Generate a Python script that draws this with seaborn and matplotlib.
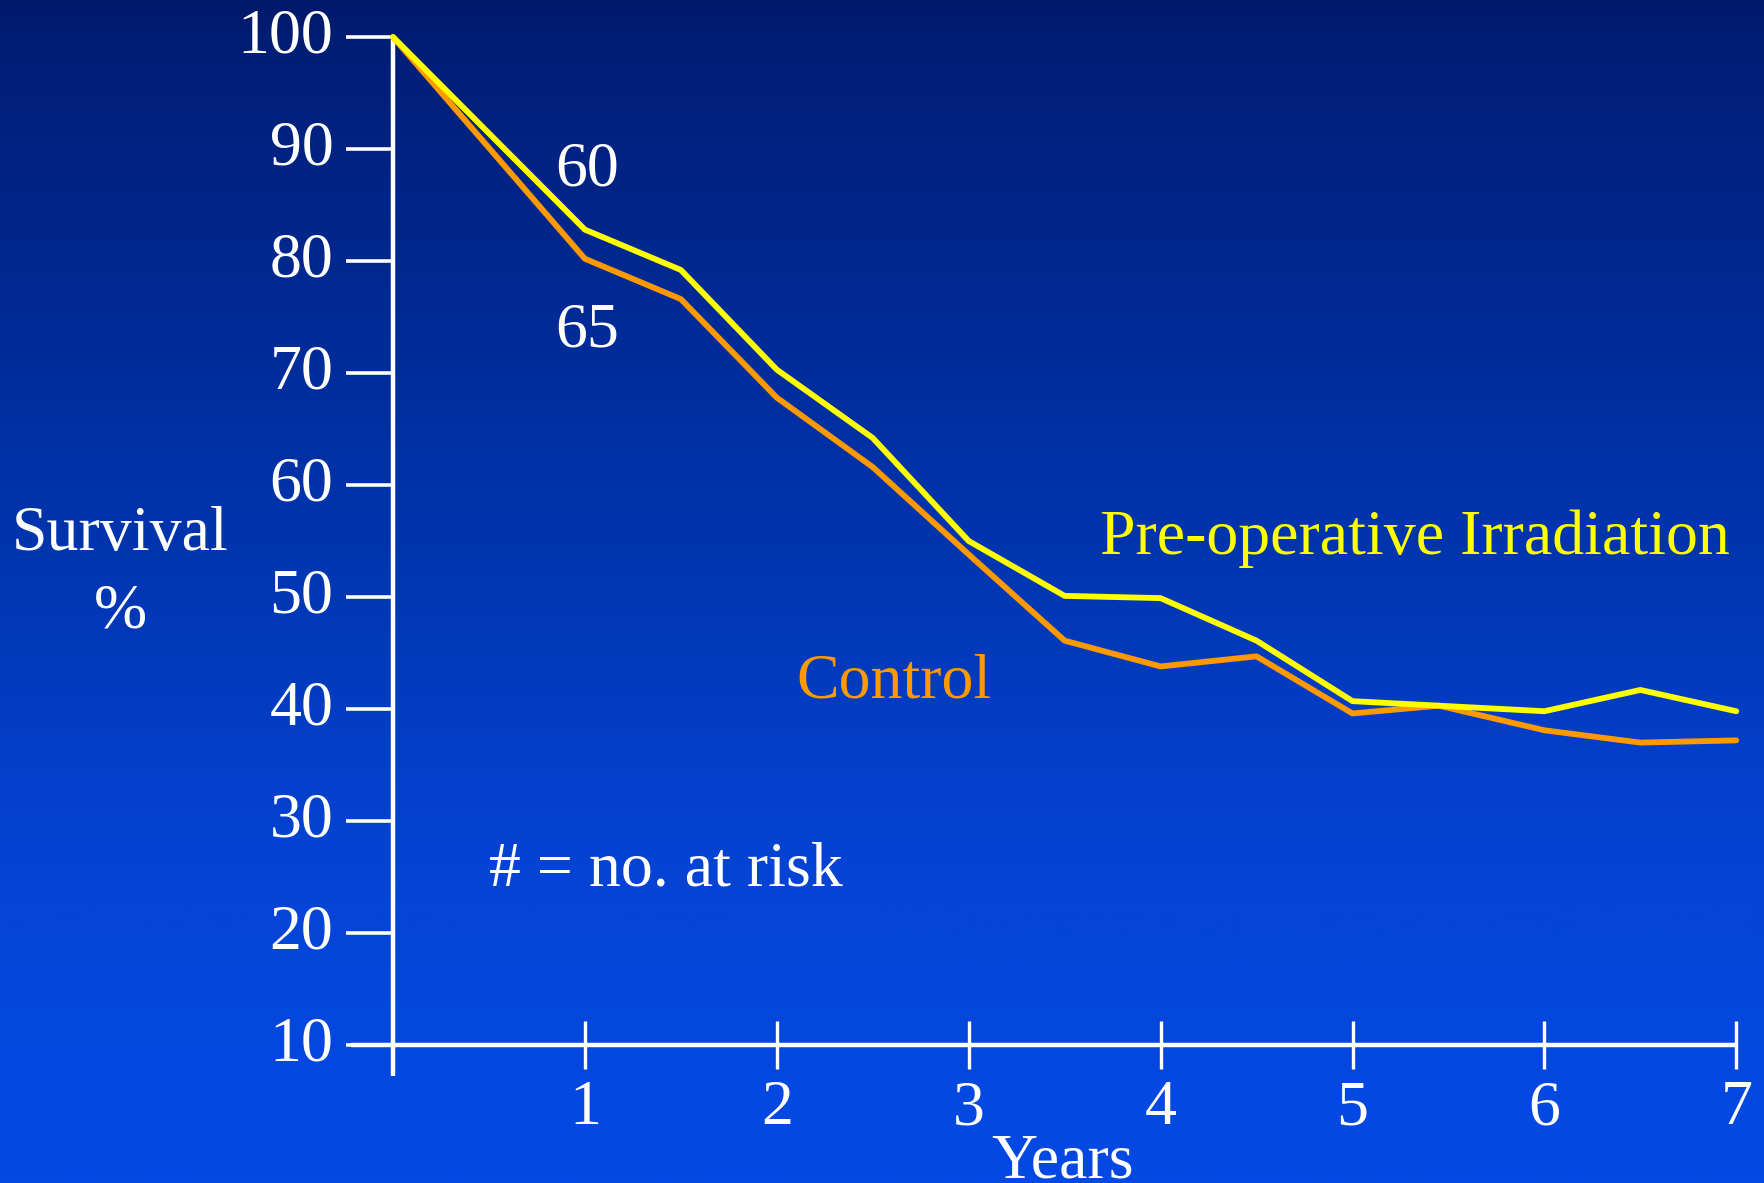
import numpy as np
import pandas as pd
import matplotlib
matplotlib.use("Agg")
import matplotlib.pyplot as plt
from matplotlib.colors import LinearSegmentedColormap
from matplotlib.transforms import ScaledTranslation
import seaborn as sns

# Survival curves (percent alive) by year of follow-up
preop_years = [0, 1, 1.5, 2, 2.5, 3, 3.5, 4, 4.5, 5, 6, 6.5, 7]
preop_survival = [100, 82.8, 79.2, 70.3, 64.2, 55.0, 50.1, 49.9, 46.1, 40.7, 39.8, 41.7, 39.8]

control_years = [0, 1, 1.5, 2, 2.5, 3, 3.5, 4, 4.5, 5, 5.45, 6, 6.5, 7]
control_survival = [100, 80.2, 76.6, 67.8, 61.6, 53.8, 46.1, 43.8, 44.7, 39.6, 40.3, 38.1, 37.0, 37.2]

y_ticks = [10, 20, 30, 40, 50, 60, 70, 80, 90, 100]
x_ticks = [1, 2, 3, 4, 5, 6, 7]

at_risk_preop = "60"
at_risk_control = "65"

YELLOW = "#FFFF00"
ORANGE = "#FF9900"
WHITE = "#FFFFFF"

sns.set_theme(style="white")
plt.rcParams["font.family"] = ["Liberation Serif", "DejaVu Serif"]

W, H, DPI = 1764, 1183, 100
fig = plt.figure(figsize=(W / DPI, H / DPI), dpi=DPI)

# vertical blue gradient backdrop
bg = fig.add_axes([0, 0, 1, 1])
cmap = LinearSegmentedColormap.from_list(
    "slide",
    [(0.0, "#00186A"), (0.04, "#001E76"), (0.3, "#002C9A"),
     (0.5, "#0037B4"), (0.7, "#0442D0"), (0.85, "#0447DE"), (1.0, "#0549E5")],
)
grad = np.linspace(0, 1, 512).reshape(-1, 1)
bg.imshow(grad, aspect="auto", cmap=cmap, extent=[0, 1, 0, 1], origin="upper")
bg.set_axis_off()

ax = fig.add_axes([0, 0, 1, 1])
ax.set_facecolor("none")

preop = pd.DataFrame({"Years": preop_years, "Survival": preop_survival})
control = pd.DataFrame({"Years": control_years, "Survival": control_survival})

sns.lineplot(data=control, x="Years", y="Survival", ax=ax, color=ORANGE,
             linewidth=4.2, estimator=None, sort=False, zorder=3)
sns.lineplot(data=preop, x="Years", y="Survival", ax=ax, color=YELLOW,
             linewidth=4.2, estimator=None, sort=False, zorder=4)

# data range chosen so the axes fill the whole canvas
px_per_year = 191.9
px_per_pct = 11.2
x0_px, y100_px = 393, 37
ax.set_xlim(-x0_px / px_per_year, (W - x0_px) / px_per_year)
ax.set_ylim(100 - (H - y100_px) / px_per_pct, 100 + y100_px / px_per_pct)

for side in ("top", "right"):
    ax.spines[side].set_visible(False)
ax.spines["left"].set_position(("data", 0))
ax.spines["left"].set_bounds(7.2, 100)
ax.spines["bottom"].set_position(("data", 10))
ax.spines["bottom"].set_bounds(-0.22, 7)
for side in ("left", "bottom"):
    ax.spines[side].set_color(WHITE)
    ax.spines[side].set_linewidth(3.2)
    ax.spines[side].set_capstyle("butt")

ax.set_yticks(y_ticks)
ax.set_yticklabels([str(v) for v in y_ticks])
ax.set_xticks(x_ticks)
ax.set_xticklabels([str(v) for v in x_ticks])
ax.tick_params(axis="y", direction="out", length=34, width=2.6, color=WHITE,
               labelcolor=WHITE, labelsize=46, pad=9, left=True)
ax.tick_params(axis="x", direction="inout", length=35, width=2.4, color=WHITE,
               labelcolor=WHITE, labelsize=46, pad=8, bottom=True)
ax.grid(False)

# sit the numerals optically centred on their ticks
lift_y = ScaledTranslation(0, 5 / 72, fig.dpi_scale_trans)
for lbl in ax.get_yticklabels():
    lbl.set_transform(lbl.get_transform() + lift_y)

ax.set_xlabel("Years", color=WHITE, fontsize=46, va="baseline")
ax.xaxis.set_label_coords(1063 / W, 1 - 1177 / H)
ax.set_ylabel("Survival\n%", color=WHITE, fontsize=46, rotation=0,
              ha="center", va="baseline", multialignment="center",
              linespacing=1.45)
ax.yaxis.set_label_coords(120 / W, 1 - 608 / H)

ax.text(1.01, 86.7, at_risk_preop, color=WHITE, fontsize=46, ha="center", va="baseline")
ax.text(1.01, 72.35, at_risk_control, color=WHITE, fontsize=46, ha="center", va="baseline")
ax.text(3.684, 53.8, "Pre-operative Irradiation", color=YELLOW, fontsize=46,
        ha="left", va="baseline")
ax.text(2.10, 41.0, "Control", color=ORANGE, fontsize=46, ha="left", va="baseline")
ax.text(0.50, 24.2, "# = no. at risk", color=WHITE, fontsize=46, ha="left", va="baseline")

fig.savefig("out.png", dpi=DPI)
